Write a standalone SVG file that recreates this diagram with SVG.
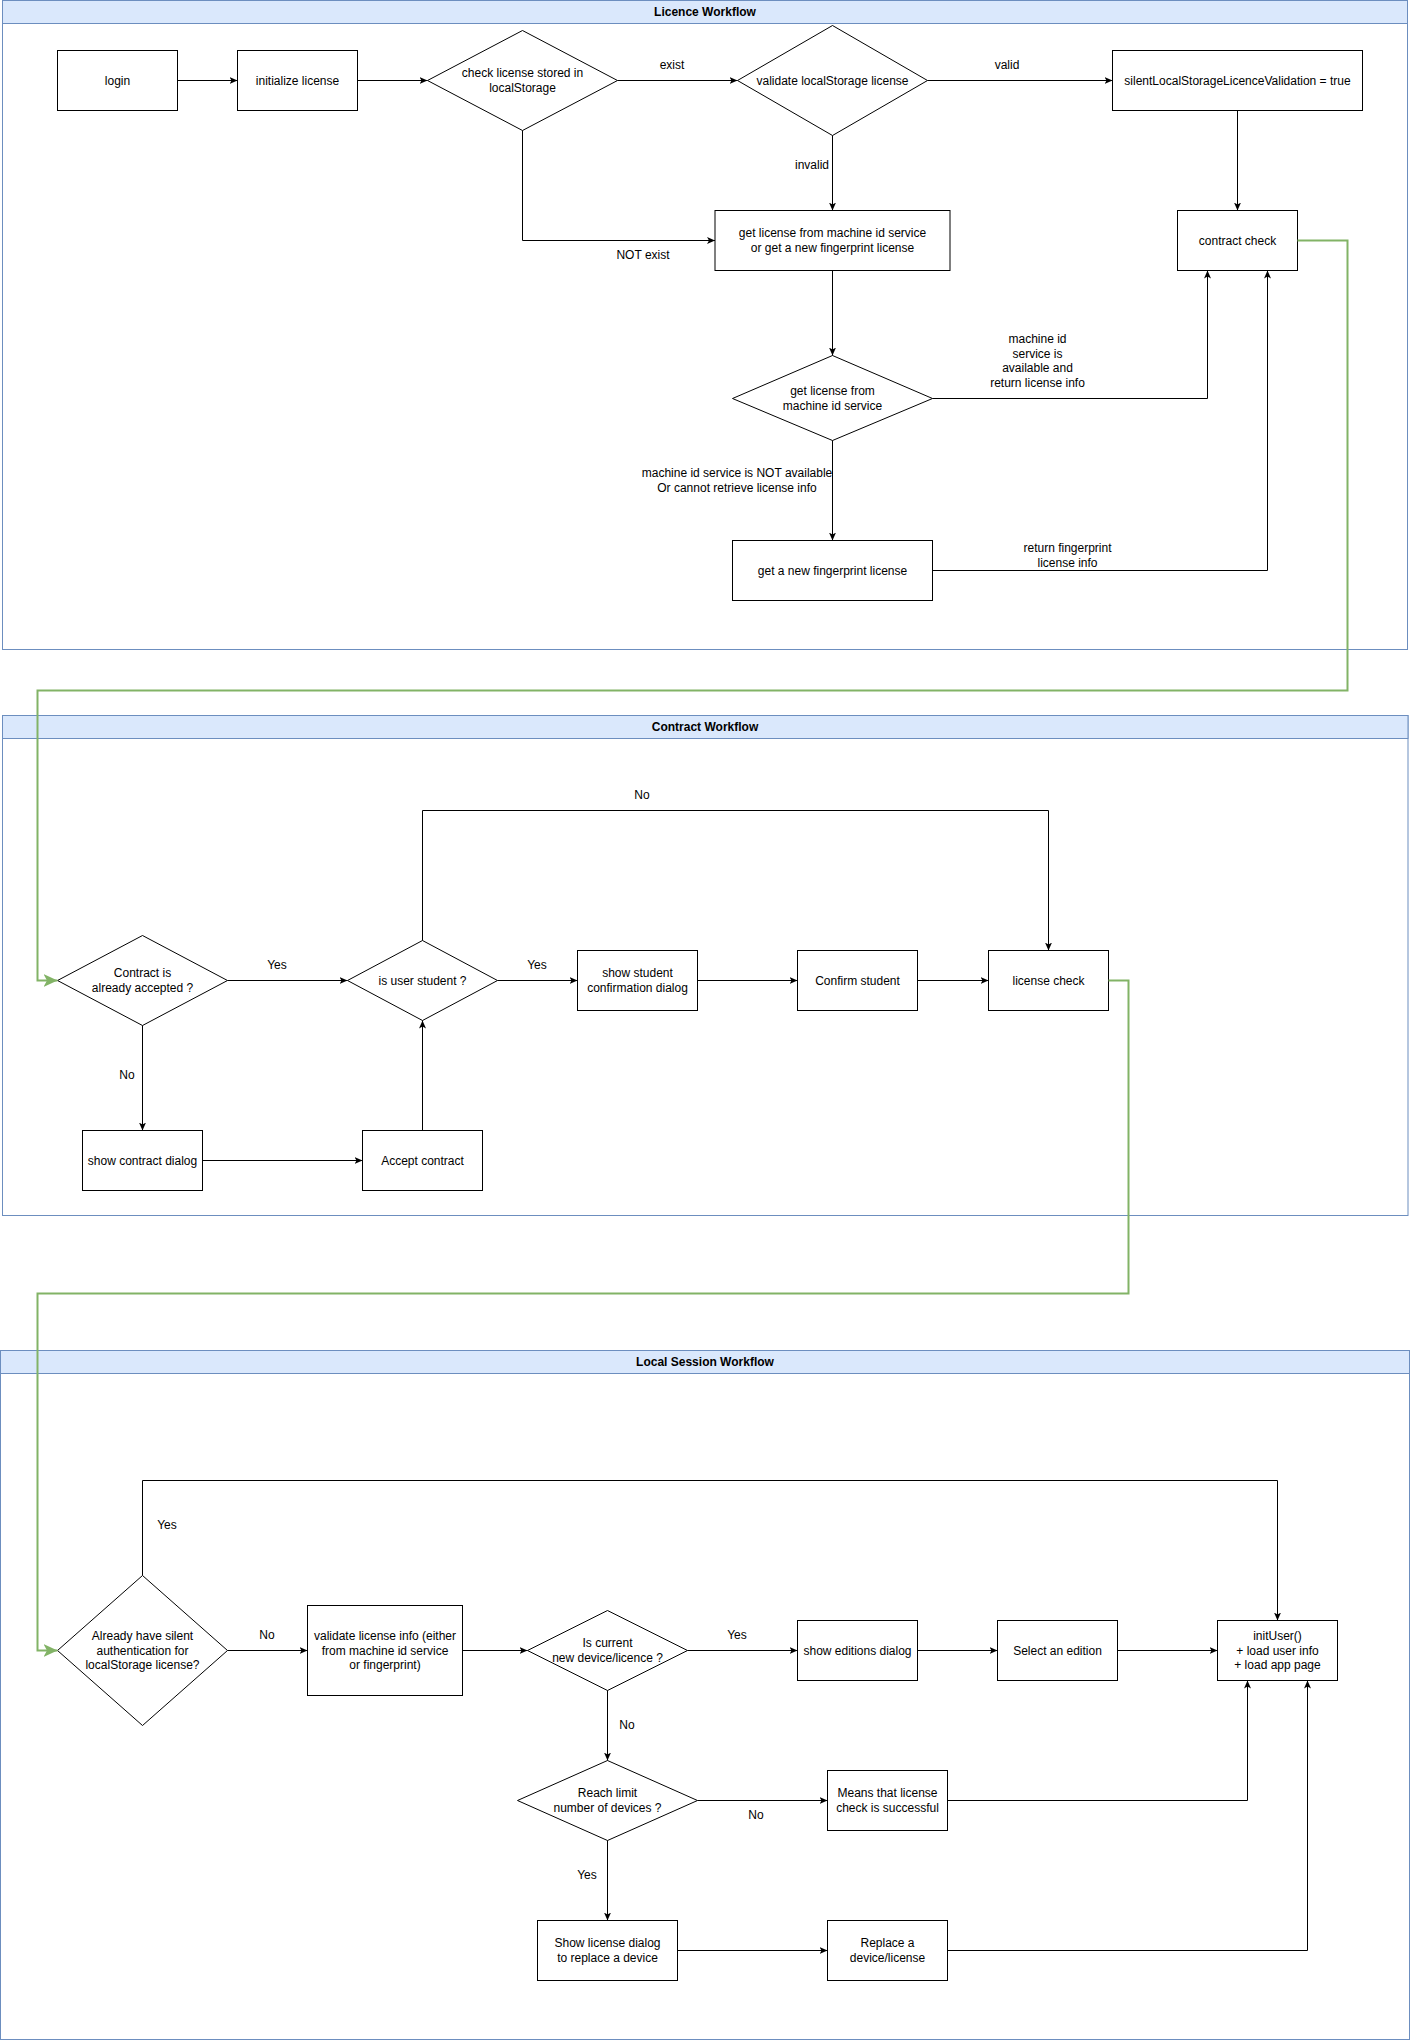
<svg xmlns="http://www.w3.org/2000/svg" width="1411" height="2041" viewBox="0 0 1411 2041">
<style>
.lane{fill:#ffffff;stroke:#6c8ebf;stroke-width:1}
.hdr{fill:#dae8fc;stroke:#6c8ebf;stroke-width:1}
.ttl{font-family:"Liberation Sans",Arial,sans-serif;font-size:12px;font-weight:bold;text-anchor:middle;fill:#000}
.box{fill:#ffffff;stroke:#000;stroke-width:1}
.t{font-family:"Liberation Sans",Arial,sans-serif;font-size:12px;text-anchor:middle;fill:#000}
.e{fill:none;stroke:#000;stroke-width:1;marker-end:url(#arr)}
.g{fill:none;stroke:#82b366;stroke-width:2;marker-end:url(#garr)}
</style>
<defs>
<marker id="arr" viewBox="0 0 8 7" markerWidth="8" markerHeight="7" refX="8" refY="3.5" orient="auto" markerUnits="userSpaceOnUse">
<path d="M0,0 L8,3.5 L0,7 L2,3.5 Z" fill="#000"/>
</marker>
<marker id="garr" viewBox="0 0 14 13" markerWidth="14" markerHeight="13" refX="14" refY="6.5" orient="auto" markerUnits="userSpaceOnUse">
<path d="M0,0 L14,6.5 L0,13 L3.5,6.5 Z" fill="#82b366"/>
</marker>
</defs>
<rect width="1411" height="2041" fill="#ffffff"/>

<g id="lane-licence">
<rect class="lane" x="2.5" y="0.5" width="1405" height="649"/>
<rect class="hdr" x="2.5" y="0.5" width="1405" height="23"/>
<text class="ttl" x="705" y="16">Licence Workflow</text>
</g>
<g id="lane-contract">
<rect class="lane" x="2.5" y="715.5" width="1405.5" height="500"/>
<rect class="hdr" x="2.5" y="715.5" width="1405.5" height="23"/>
<text class="ttl" x="705" y="731">Contract Workflow</text>
</g>
<g id="lane-local">
<rect class="lane" x="0.5" y="1350.5" width="1409" height="689"/>
<rect class="hdr" x="0.5" y="1350.5" width="1409" height="23"/>
<text class="ttl" x="705" y="1366">Local Session Workflow</text>
</g>

<g id="n-login"><rect class="box" x="57.5" y="50.5" width="120" height="60"/><text class="t" x="117.5" y="84.5">login</text></g>
<g id="n-init"><rect class="box" x="237.5" y="50.5" width="120" height="60"/><text class="t" x="297.5" y="84.5">initialize license</text></g>
<g id="n-check"><polygon class="box" points="427.5,80.5 522.5,30.5 617.5,80.5 522.5,130.5"/><text class="t" x="522.5" y="77.25">check license stored in</text><text class="t" x="522.5" y="91.75">localStorage</text></g>
<g id="n-validate"><polygon class="box" points="737.5,80.5 832.5,25.5 927.5,80.5 832.5,135.5"/><text class="t" x="832.5" y="84.5">validate localStorage license</text></g>
<g id="n-silent"><rect class="box" x="1112.5" y="50.5" width="250" height="60"/><text class="t" x="1237.5" y="84.5">silentLocalStorageLicenceValidation = true</text></g>
<g id="n-getlic"><rect class="box" x="715" y="210.5" width="235" height="60"/><text class="t" x="832.5" y="237.25">get license from machine id service</text><text class="t" x="832.5" y="251.75">or get a new fingerprint license</text></g>
<g id="n-contractcheck"><rect class="box" x="1177.5" y="210.5" width="120" height="60"/><text class="t" x="1237.5" y="244.5">contract check</text></g>
<g id="n-machine"><polygon class="box" points="732.5,398.5 832.5,355.5 932.5,398.5 832.5,440.5"/><text class="t" x="832.5" y="395.25">get license from</text><text class="t" x="832.5" y="409.75">machine id service</text></g>
<g id="n-fingerprint"><rect class="box" x="732.5" y="540.5" width="200" height="60"/><text class="t" x="832.5" y="574.5">get a new fingerprint license</text></g>

<g id="n-accepted"><polygon class="box" points="57.5,980.5 142.5,935.5 227.5,980.5 142.5,1025.5"/><text class="t" x="142.5" y="977.25">Contract is</text><text class="t" x="142.5" y="991.75">already accepted ?</text></g>
<g id="n-student"><polygon class="box" points="347.5,980.5 422.5,940.5 497.5,980.5 422.5,1020.5"/><text class="t" x="422.5" y="984.5">is user student ?</text></g>
<g id="n-showstudent"><rect class="box" x="577.5" y="950.5" width="120" height="60"/><text class="t" x="637.5" y="977.25">show student</text><text class="t" x="637.5" y="991.75">confirmation dialog</text></g>
<g id="n-confirm"><rect class="box" x="797.5" y="950.5" width="120" height="60"/><text class="t" x="857.5" y="984.5">Confirm student</text></g>
<g id="n-licensecheck"><rect class="box" x="988.5" y="950.5" width="120" height="60"/><text class="t" x="1048.5" y="984.5">license check</text></g>
<g id="n-showcontract"><rect class="box" x="82.5" y="1130.5" width="120" height="60"/><text class="t" x="142.5" y="1164.5">show contract dialog</text></g>
<g id="n-accept"><rect class="box" x="362.5" y="1130.5" width="120" height="60"/><text class="t" x="422.5" y="1164.5">Accept contract</text></g>

<g id="n-silentauth"><polygon class="box" points="57.5,1650.5 142.5,1575.5 227.5,1650.5 142.5,1725.5"/><text class="t" x="142.5" y="1640">Already have silent</text><text class="t" x="142.5" y="1654.5">authentication for</text><text class="t" x="142.5" y="1669">localStorage license?</text></g>
<g id="n-validateinfo"><rect class="box" x="307.5" y="1605.5" width="155" height="90"/><text class="t" x="385" y="1640">validate license info (either</text><text class="t" x="385" y="1654.5">from machine id service</text><text class="t" x="385" y="1669">or fingerprint)</text></g>
<g id="n-newdevice"><polygon class="box" points="527.5,1650.5 607.5,1610.5 687.5,1650.5 607.5,1690.5"/><text class="t" x="607.5" y="1647.25">Is current</text><text class="t" x="607.5" y="1661.75">new device/licence ?</text></g>
<g id="n-editions"><rect class="box" x="797.5" y="1620.5" width="120" height="60"/><text class="t" x="857.5" y="1654.5">show editions dialog</text></g>
<g id="n-select"><rect class="box" x="997.5" y="1620.5" width="120" height="60"/><text class="t" x="1057.5" y="1654.5">Select an edition</text></g>
<g id="n-inituser"><rect class="box" x="1217.5" y="1620.5" width="120" height="60"/><text class="t" x="1277.5" y="1640">initUser()</text><text class="t" x="1277.5" y="1654.5">+ load user info</text><text class="t" x="1277.5" y="1669">+ load app page</text></g>
<g id="n-limit"><polygon class="box" points="517.5,1800.5 607.5,1760.5 697.5,1800.5 607.5,1840.5"/><text class="t" x="607.5" y="1797.25">Reach limit</text><text class="t" x="607.5" y="1811.75">number of devices ?</text></g>
<g id="n-means"><rect class="box" x="827.5" y="1770.5" width="120" height="60"/><text class="t" x="887.5" y="1797.25">Means that license</text><text class="t" x="887.5" y="1811.75">check is successful</text></g>
<g id="n-showlic"><rect class="box" x="537.5" y="1920.5" width="140" height="60"/><text class="t" x="607.5" y="1947.25">Show license dialog</text><text class="t" x="607.5" y="1961.75">to replace a device</text></g>
<g id="n-replace"><rect class="box" x="827.5" y="1920.5" width="120" height="60"/><text class="t" x="887.5" y="1947.25">Replace a</text><text class="t" x="887.5" y="1961.75">device/license</text></g>

<g id="connectors">
<path class="e" d="M177.5,80.5 L237.5,80.5"/>
<path class="e" d="M357.5,80.5 L427.5,80.5"/>
<path class="e" d="M617.5,80.5 L737.5,80.5"/>
<text class="t" x="672" y="69">exist</text>
<path class="e" d="M522.5,130.5 L522.5,240.5 L715,240.5"/>
<text class="t" x="643" y="259">NOT exist</text>
<path class="e" d="M927.5,80.5 L1112.5,80.5"/>
<text class="t" x="1007" y="69">valid</text>
<path class="e" d="M832.5,135.5 L832.5,210.5"/>
<text class="t" x="812" y="169">invalid</text>
<path class="e" d="M1237.5,110.5 L1237.5,210.5"/>
<path class="e" d="M832.5,270.5 L832.5,355.5"/>
<path class="e" d="M932.5,398.5 L1207.5,398.5 L1207.5,270.5"/>
<text class="t" x="1037.5" y="343">machine id</text>
<text class="t" x="1037.5" y="357.5">service is</text>
<text class="t" x="1037.5" y="372">available and</text>
<text class="t" x="1037.5" y="386.5">return license info</text>
<path class="e" d="M832.5,440.5 L832.5,540.5"/>
<text class="t" x="737" y="477">machine id service is NOT available</text>
<text class="t" x="737" y="491.5">Or cannot retrieve license info</text>
<path class="e" d="M932.5,570.5 L1267.5,570.5 L1267.5,270.5"/>
<text class="t" x="1067.5" y="552.25">return fingerprint</text>
<text class="t" x="1067.5" y="566.75">license info</text>

<path class="e" d="M227.5,980.5 L347.5,980.5"/>
<text class="t" x="277" y="969">Yes</text>
<path class="e" d="M497.5,980.5 L577.5,980.5"/>
<text class="t" x="537" y="969">Yes</text>
<path class="e" d="M697.5,980.5 L797.5,980.5"/>
<path class="e" d="M917.5,980.5 L988.5,980.5"/>
<path class="e" d="M422.5,940.5 L422.5,810.5 L1048.5,810.5 L1048.5,950.5"/>
<text class="t" x="642" y="799">No</text>
<path class="e" d="M142.5,1025.5 L142.5,1130.5"/>
<text class="t" x="127" y="1079">No</text>
<path class="e" d="M202.5,1160.5 L362.5,1160.5"/>
<path class="e" d="M422.5,1130.5 L422.5,1020.5"/>

<path class="e" d="M227.5,1650.5 L307.5,1650.5"/>
<text class="t" x="267" y="1639">No</text>
<path class="e" d="M142.5,1575.5 L142.5,1480.5 L1277.5,1480.5 L1277.5,1620.5"/>
<text class="t" x="167" y="1529">Yes</text>
<path class="e" d="M462.5,1650.5 L527.5,1650.5"/>
<path class="e" d="M687.5,1650.5 L797.5,1650.5"/>
<text class="t" x="737" y="1639">Yes</text>
<path class="e" d="M917.5,1650.5 L997.5,1650.5"/>
<path class="e" d="M1117.5,1650.5 L1217.5,1650.5"/>
<path class="e" d="M607.5,1690.5 L607.5,1760.5"/>
<text class="t" x="627" y="1729">No</text>
<path class="e" d="M697.5,1800.5 L827.5,1800.5"/>
<text class="t" x="756" y="1819">No</text>
<path class="e" d="M947.5,1800.5 L1247.5,1800.5 L1247.5,1680.5"/>
<path class="e" d="M607.5,1840.5 L607.5,1920.5"/>
<text class="t" x="587" y="1879">Yes</text>
<path class="e" d="M677.5,1950.5 L827.5,1950.5"/>
<path class="e" d="M947.5,1950.5 L1307.5,1950.5 L1307.5,1680.5"/>

<path class="g" d="M1297.5,240.5 L1347.5,240.5 L1347.5,690.5 L37.5,690.5 L37.5,980.5 L57.5,980.5"/>
<path class="g" d="M1108.5,980.5 L1128.5,980.5 L1128.5,1293.5 L37.5,1293.5 L37.5,1650.5 L57.5,1650.5"/>
</g>
</svg>
